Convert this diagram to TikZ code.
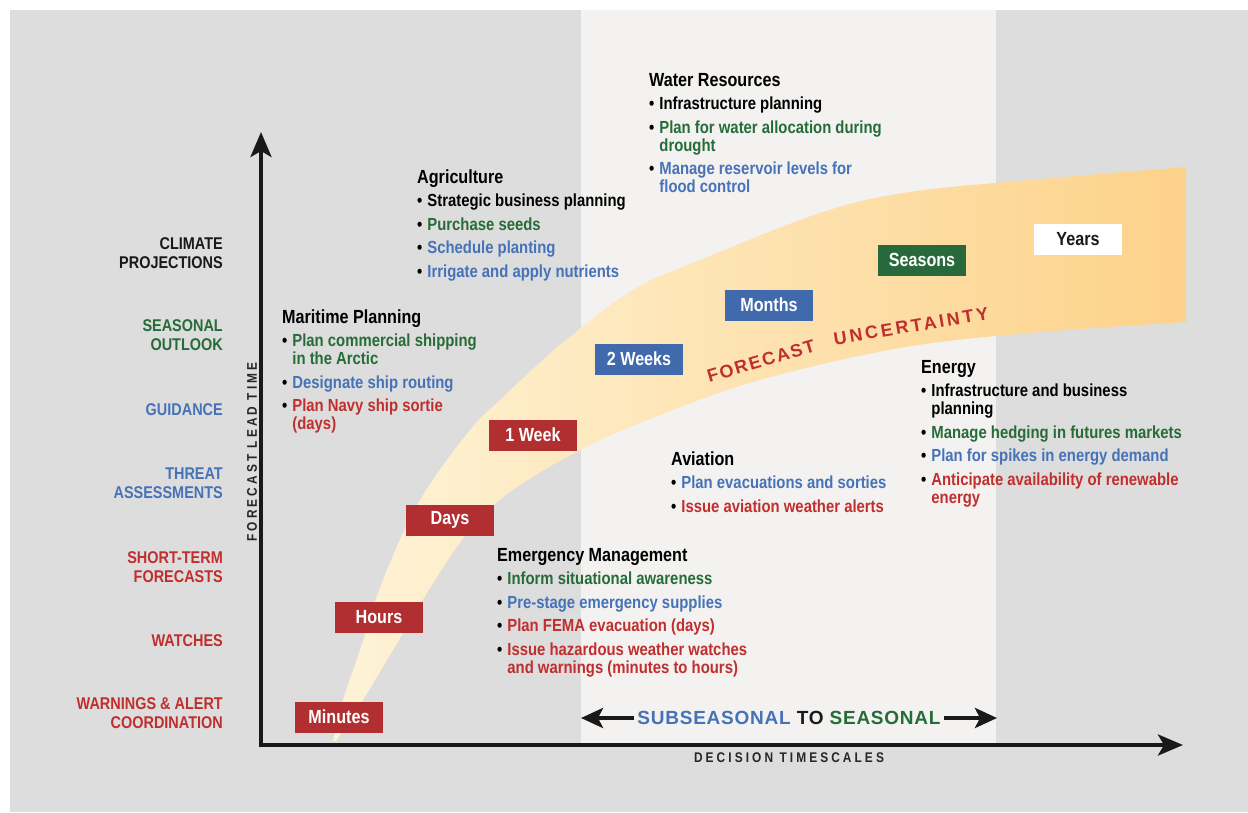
\documentclass[tikz,border=0pt]{standalone}
\usepackage{fontspec}
\setmainfont{Liberation Sans}
\newfontfamily\cf{Liberation Sans}[FakeStretch=0.85]
\newfontfamily\cfls{Liberation Sans}[FakeStretch=0.85,LetterSpace=22]
\newfontfamily\wls{Liberation Sans}[LetterSpace=10]
\newfontfamily\wlsb{Liberation Sans}[LetterSpace=16]
\newfontfamily\wss{Liberation Sans}[LetterSpace=4]
\usetikzlibrary{arrows.meta}
\definecolor{bg}{RGB}{221,221,221}
\definecolor{panel}{RGB}{243,242,240}
\definecolor{tg}{RGB}{38,108,56}
\definecolor{tb}{RGB}{70,114,184}
\definecolor{tr}{RGB}{192,46,46}
\definecolor{bred}{RGB}{178,47,49}
\definecolor{bblue}{RGB}{64,106,172}
\definecolor{bgreen}{RGB}{40,105,60}
\definecolor{bandL}{RGB}{254,243,215}
\definecolor{bandR}{RGB}{253,210,138}
\newcommand{\ttl}{\fontsize{19}{18}\selectfont}
\tikzset{
  blk/.style={anchor=base west, inner sep=0pt, font=\cf\bfseries\fontsize{17.5}{18}\selectfont},
  lvl/.style={anchor=east, align=right, inner sep=0pt, font=\cf\bfseries\fontsize{17}{19.5}\selectfont},
  bx/.style={minimum width=88pt, minimum height=31pt, inner sep=0pt, text=white, font=\cf\bfseries\fontsize{19}{19}\selectfont},
  axis/.style={line width=4pt, black!90, -{Stealth[length=25pt,width=21pt,inset=6pt]}},
  ssarrow/.style={line width=4pt, black!90, -{Stealth[length=22pt,width=20pt,inset=5pt]}},
}
\begin{document}
\begin{tikzpicture}[x=1pt,y=-1pt]
\useasboundingbox (0,0) rectangle (1248,812);
\fill[bg] (10,10) rectangle (1248,812);
\fill[panel] (581,10) rectangle (996,745);
% forecast uncertainty band
\shade[left color=bandL, right color=bandR]
  plot[smooth, tension=0.6] coordinates {(333,741) (343,700) (360,650) (383,580) (420,500) (470,430) (500,400) (560,345) (633,290) (700,260) (823,212) (910,192) (1030,180) (1186,167)}
  -- plot[smooth, tension=0.6] coordinates {(1186,322) (1030,333) (900,348) (760,380) (660,415) (580,450) (510,492) (470,530) (435,580) (393,650) (363,700) (336,741)}
  -- cycle;
\node[rotate=16.5, inner sep=0pt, text=tr, font=\wls\bfseries\fontsize{18}{18}\selectfont] (fc) at (761,361) {FORECAST};
\node[rotate=9.5, inner sep=0pt, text=tr, font=\wlsb\bfseries\fontsize{18}{18}\selectfont] (unc) at (911,326) {UNCERTAINTY};
% axes
\coordinate (org) at (261,745);
\coordinate (ytip) at (261,132);
\coordinate (xtip) at (1183,745);
\draw[axis, line cap=rect] (org) -- (ytip);
\draw[axis, line cap=rect] (org) -- (xtip);
\node[rotate=90, font=\cfls\bfseries\fontsize{14}{14}\selectfont, text=black!85] (ylab) at (252,452) {FORECAST LEAD TIME};
\node[font=\cfls\bfseries\fontsize{14}{14}\selectfont, text=black!85] (xlab) at (789,758) {DECISION TIMESCALES};
% subseasonal to seasonal
\node[inner sep=3pt, font=\wss\bfseries\fontsize{19}{19}\selectfont] (ss) at (789,718) {\textcolor{tb}{SUBSEASONAL} \textcolor{black!90}{TO} \textcolor{tg}{SEASONAL}};
\coordinate (ssl) at (581,718);
\coordinate (ssr) at (997,718);
\draw[ssarrow] (ss.west) -- (ssl);
\draw[ssarrow] (ss.east) -- (ssr);
% left level labels
\node[lvl, text=black!90] (l1) at (223,253) {CLIMATE\\PROJECTIONS};
\node[lvl, text=tg] (l2) at (223,335) {SEASONAL\\OUTLOOK};
\node[lvl, text=tb] (l3) at (223,410) {GUIDANCE};
\node[lvl, text=tb] (l4) at (223,483) {THREAT\\ASSESSMENTS};
\node[lvl, text=tr] (l5) at (223,567) {SHORT-TERM\\FORECASTS};
\node[lvl, text=tr] (l6) at (223,641) {WATCHES};
\node[lvl, text=tr] (l7) at (223,713) {WARNINGS \& ALERT\\COORDINATION};
% time boxes
\node[bx, fill=bred] (minutes) at (339,717) {Minutes};
\node[bx, fill=bred] (hours) at (379,617) {Hours};
\node[bx, fill=bred] (days) at (450,520) {Days};
\node[bx, fill=bred] (week) at (533,435) {1 Week};
\node[bx, fill=bblue] (weeks) at (639,359) {2 Weeks};
\node[bx, fill=bblue] (months) at (769,305) {Months};
\node[bx, fill=bgreen] (seasons) at (922,260) {Seasons};
\node[bx, fill=white, text=black!90] (years) at (1078,239) {Years};
% text blocks
\node[blk] (mar) at (282,323) {\begin{tabular}[t]{@{}l@{\hspace{5pt}}l@{}}
\multicolumn{2}{@{}l@{}}{\ttl Maritime Planning}\\[5.5pt]
\textbullet & \textcolor{tg}{Plan commercial shipping}\\
 & \textcolor{tg}{in the Arctic}\\[5.5pt]
\textbullet & \textcolor{tb}{Designate ship routing}\\[5.5pt]
\textbullet & \textcolor{tr}{Plan Navy ship sortie}\\
 & \textcolor{tr}{(days)}
\end{tabular}};
\node[blk] (agri) at (417,183) {\begin{tabular}[t]{@{}l@{\hspace{5pt}}l@{}}
\multicolumn{2}{@{}l@{}}{\ttl Agriculture}\\[5.5pt]
\textbullet & Strategic business planning\\[5.5pt]
\textbullet & \textcolor{tg}{Purchase seeds}\\[5.5pt]
\textbullet & \textcolor{tb}{Schedule planting}\\[5.5pt]
\textbullet & \textcolor{tb}{Irrigate and apply nutrients}
\end{tabular}};
\node[blk] (water) at (649,86) {\begin{tabular}[t]{@{}l@{\hspace{5pt}}l@{}}
\multicolumn{2}{@{}l@{}}{\ttl Water Resources}\\[5.5pt]
\textbullet & Infrastructure planning\\[5.5pt]
\textbullet & \textcolor{tg}{Plan for water allocation during}\\
 & \textcolor{tg}{drought}\\[5.5pt]
\textbullet & \textcolor{tb}{Manage reservoir levels for}\\
 & \textcolor{tb}{flood control}
\end{tabular}};
\node[blk] (energy) at (921,373) {\begin{tabular}[t]{@{}l@{\hspace{5pt}}l@{}}
\multicolumn{2}{@{}l@{}}{\ttl Energy}\\[5.5pt]
\textbullet & Infrastructure and business\\
 & planning\\[5.5pt]
\textbullet & \textcolor{tg}{Manage hedging in futures markets}\\[5.5pt]
\textbullet & \textcolor{tb}{Plan for spikes in energy demand}\\[5.5pt]
\textbullet & \textcolor{tr}{Anticipate availability of renewable}\\
 & \textcolor{tr}{energy}
\end{tabular}};
\node[blk] (avi) at (671,465) {\begin{tabular}[t]{@{}l@{\hspace{5pt}}l@{}}
\multicolumn{2}{@{}l@{}}{\ttl Aviation}\\[5.5pt]
\textbullet & \textcolor{tb}{Plan evacuations and sorties}\\[5.5pt]
\textbullet & \textcolor{tr}{Issue aviation weather alerts}
\end{tabular}};
\node[blk] (emer) at (497,561) {\begin{tabular}[t]{@{}l@{\hspace{5pt}}l@{}}
\multicolumn{2}{@{}l@{}}{\ttl Emergency Management}\\[5.5pt]
\textbullet & \textcolor{tg}{Inform situational awareness}\\[5.5pt]
\textbullet & \textcolor{tb}{Pre-stage emergency supplies}\\[5.5pt]
\textbullet & \textcolor{tr}{Plan FEMA evacuation (days)}\\[5.5pt]
\textbullet & \textcolor{tr}{Issue hazardous weather watches}\\
 & \textcolor{tr}{and warnings (minutes to hours)}
\end{tabular}};
\end{tikzpicture}
\end{document}
